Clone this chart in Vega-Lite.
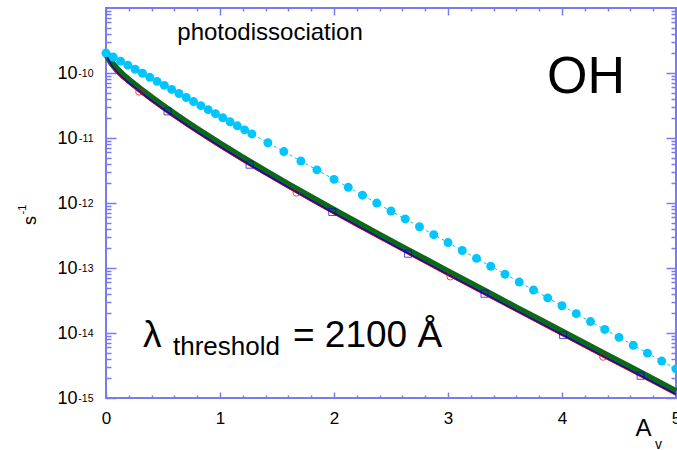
{
  "$schema": "https://vega.github.io/schema/vega-lite/v6.json",
  "width": 570,
  "height": 390,
  "autosize": {"type": "none"},
  "padding": {"left": 106, "top": 8, "right": 1, "bottom": 52},
  "config": {
    "view": {"stroke": "#7b7bf0", "strokeWidth": 2},
    "font": "Liberation Sans",
    "axis": {"domain": false, "grid": false, "tickColor": "#7b7bf0", "tickWidth": 1.5, "labelColor": "black", "titleColor": "black", "labelFont": "Liberation Sans", "titleFont": "Liberation Sans", "titleFontWeight": "normal", "labelOverlap": false, "labelBound": false, "labelFlush": false}
  },
  "datasets": {
    "green": [
      {"x": 0, "y": 2.0e-10}, {"x": 0.05, "y": 1.431e-10}, {"x": 0.1, "y": 1.119e-10}, {"x": 0.15, "y": 9.22e-11}, {"x": 0.2, "y": 7.76e-11}, {"x": 0.3, "y": 5.62e-11}, {"x": 0.4, "y": 4.14e-11}, {"x": 0.5, "y": 3.096e-11}, {"x": 0.6, "y": 2.332e-11}, {"x": 0.7, "y": 1.769e-11}, {"x": 0.8, "y": 1.355e-11}, {"x": 0.9, "y": 1.045e-11}, {"x": 1.0, "y": 8.09e-12}, {"x": 1.2, "y": 4.92e-12}, {"x": 1.4, "y": 3.05e-12}, {"x": 1.6, "y": 1.909e-12}, {"x": 1.8, "y": 1.208e-12}, {"x": 2.0, "y": 7.70e-13}, {"x": 2.2, "y": 4.95e-13}, {"x": 2.4, "y": 3.19e-13}, {"x": 2.6, "y": 2.065e-13}, {"x": 2.8, "y": 1.343e-13}, {"x": 3.0, "y": 8.72e-14}, {"x": 3.2, "y": 5.69e-14}, {"x": 3.4, "y": 3.72e-14}, {"x": 3.6, "y": 2.425e-14}, {"x": 3.8, "y": 1.588e-14}, {"x": 4.0, "y": 1.039e-14}, {"x": 4.2, "y": 6.81e-15}, {"x": 4.4, "y": 4.45e-15}, {"x": 4.6, "y": 2.923e-15}, {"x": 4.8, "y": 1.914e-15}, {"x": 5.0, "y": 1.256e-15}
    ],
    "blue": [
      {"x": 0, "y": 1.905e-10}, {"x": 0.05, "y": 1.306e-10}, {"x": 0.1, "y": 1.021e-10}, {"x": 0.15, "y": 8.41e-11}, {"x": 0.2, "y": 7.08e-11}, {"x": 0.3, "y": 5.13e-11}, {"x": 0.4, "y": 3.78e-11}, {"x": 0.5, "y": 2.825e-11}, {"x": 0.6, "y": 2.128e-11}, {"x": 0.7, "y": 1.614e-11}, {"x": 0.8, "y": 1.236e-11}, {"x": 0.9, "y": 9.53e-12}, {"x": 1.0, "y": 7.38e-12}, {"x": 1.2, "y": 4.49e-12}, {"x": 1.4, "y": 2.78e-12}, {"x": 1.6, "y": 1.742e-12}, {"x": 1.8, "y": 1.102e-12}, {"x": 2.0, "y": 7.03e-13}, {"x": 2.2, "y": 4.52e-13}, {"x": 2.4, "y": 2.91e-13}, {"x": 2.6, "y": 1.884e-13}, {"x": 2.8, "y": 1.225e-13}, {"x": 3.0, "y": 7.96e-14}, {"x": 3.2, "y": 5.19e-14}, {"x": 3.4, "y": 3.39e-14}, {"x": 3.6, "y": 2.213e-14}, {"x": 3.8, "y": 1.449e-14}, {"x": 4.0, "y": 9.48e-15}, {"x": 4.2, "y": 6.21e-15}, {"x": 4.4, "y": 4.06e-15}, {"x": 4.6, "y": 2.667e-15}, {"x": 4.8, "y": 1.746e-15}, {"x": 5.0, "y": 1.146e-15}
    ],
    "red": [
      {"x": 0, "y": 1.88e-10}, {"x": 0.05, "y": 1.262e-10}, {"x": 0.1, "y": 9.86e-11}, {"x": 0.15, "y": 8.12e-11}, {"x": 0.2, "y": 6.84e-11}, {"x": 0.3, "y": 4.96e-11}, {"x": 0.4, "y": 3.65e-11}, {"x": 0.5, "y": 2.729e-11}, {"x": 0.6, "y": 2.056e-11}, {"x": 0.7, "y": 1.559e-11}, {"x": 0.8, "y": 1.194e-11}, {"x": 0.9, "y": 9.21e-12}, {"x": 1.0, "y": 7.13e-12}, {"x": 1.2, "y": 4.34e-12}, {"x": 1.4, "y": 2.69e-12}, {"x": 1.6, "y": 1.683e-12}, {"x": 1.8, "y": 1.065e-12}, {"x": 2.0, "y": 6.79e-13}, {"x": 2.2, "y": 4.37e-13}, {"x": 2.4, "y": 2.81e-13}, {"x": 2.6, "y": 1.82e-13}, {"x": 2.8, "y": 1.183e-13}, {"x": 3.0, "y": 7.69e-14}, {"x": 3.2, "y": 5.01e-14}, {"x": 3.4, "y": 3.27e-14}, {"x": 3.6, "y": 2.138e-14}, {"x": 3.8, "y": 1.40e-14}, {"x": 4.0, "y": 9.16e-15}, {"x": 4.2, "y": 6.0e-15}, {"x": 4.4, "y": 3.92e-15}, {"x": 4.6, "y": 2.576e-15}, {"x": 4.8, "y": 1.687e-15}, {"x": 5.0, "y": 1.107e-15}
    ],
    "cyan": [
      {"x": 0, "y": 2.028e-10}, {"x": 0.064, "y": 1.757e-10}, {"x": 0.128, "y": 1.522e-10}, {"x": 0.192, "y": 1.319e-10}, {"x": 0.256, "y": 1.143e-10}, {"x": 0.32, "y": 9.91e-11}, {"x": 0.384, "y": 8.59e-11}, {"x": 0.448, "y": 7.44e-11}, {"x": 0.512, "y": 6.45e-11}, {"x": 0.576, "y": 5.59e-11}, {"x": 0.64, "y": 4.84e-11}, {"x": 0.704, "y": 4.195e-11}, {"x": 0.768, "y": 3.635e-11}, {"x": 0.832, "y": 3.15e-11}, {"x": 0.896, "y": 2.73e-11}, {"x": 0.96, "y": 2.365e-11}, {"x": 1.024, "y": 2.05e-11}, {"x": 1.088, "y": 1.776e-11}, {"x": 1.152, "y": 1.539e-11}, {"x": 1.216, "y": 1.334e-11}, {"x": 1.28, "y": 1.156e-11}, {"x": 1.42, "y": 8.45e-12}, {"x": 1.56, "y": 6.18e-12}, {"x": 1.71, "y": 4.42e-12}, {"x": 1.85, "y": 3.23e-12}, {"x": 2.0, "y": 2.307e-12}, {"x": 2.125, "y": 1.744e-12}, {"x": 2.25, "y": 1.318e-12}, {"x": 2.375, "y": 9.97e-13}, {"x": 2.5, "y": 7.53e-13}, {"x": 2.625, "y": 5.69e-13}, {"x": 2.75, "y": 4.31e-13}, {"x": 2.875, "y": 3.255e-13}, {"x": 3.0, "y": 2.46e-13}, {"x": 3.125, "y": 1.86e-13}, {"x": 3.25, "y": 1.406e-13}, {"x": 3.375, "y": 1.063e-13}, {"x": 3.5, "y": 8.04e-14}, {"x": 3.625, "y": 6.07e-14}, {"x": 3.75, "y": 4.59e-14}, {"x": 3.875, "y": 3.47e-14}, {"x": 4.0, "y": 2.624e-14}, {"x": 4.125, "y": 1.984e-14}, {"x": 4.25, "y": 1.5e-14}, {"x": 4.375, "y": 1.134e-14}, {"x": 4.5, "y": 8.57e-15}, {"x": 4.625, "y": 6.48e-15}, {"x": 4.75, "y": 4.9e-15}, {"x": 4.875, "y": 3.70e-15}, {"x": 5.0, "y": 2.80e-15}
    ],
    "circles": [
      {"x": 0.29, "y": 5.13e-11}, {"x": 1.67, "y": 1.432e-12}, {"x": 3.02, "y": 7.36e-14}, {"x": 4.36, "y": 4.28e-15}
    ],
    "squares": [
      {"x": 0.54, "y": 2.57e-11}, {"x": 1.26, "y": 3.89e-12}, {"x": 1.985, "y": 7.28e-13}, {"x": 2.65, "y": 1.66e-13}, {"x": 3.32, "y": 4.02e-14}, {"x": 4.01, "y": 9.29e-15}, {"x": 4.69, "y": 2.20e-15}
    ],
    "one": [{}]
  },
  "resolve": {"axis": {"x": "independent", "y": "independent"}},
  "layer": [
    {
      "data": {"name": "green"},
      "mark": {"type": "line", "color": "#0e681a", "strokeWidth": 7},
      "encoding": {
        "x": {"field": "x", "type": "quantitative", "scale": {"domain": [0, 5], "nice": false},
          "axis": {"orient": "bottom", "values": [0, 1, 2, 3, 4, 5], "ticks": false, "labelFontSize": 17, "labelPadding": 12, "title": "A", "titleFontSize": 24, "titleX": 537, "titleY": 37, "titleAlign": "center", "titleBaseline": "alphabetic"}},
        "y": {"field": "y", "type": "quantitative", "scale": {"type": "log", "domain": [1e-15, 1e-9], "nice": false},
          "axis": {"orient": "left", "values": [1e-15, 1e-14, 1e-13, 1e-12, 1e-11, 1e-10], "labelExpr": "'10'", "ticks": false, "labelFontSize": 18, "labelPadding": 29, "title": "s", "titleFontSize": 18, "titleAngle": -90, "titleX": -76, "titleY": 212, "titleAlign": "center", "titleBaseline": "middle"}}
      }
    },
    {
      "data": {"name": "red"},
      "mark": {"type": "line", "color": "#e00000", "strokeWidth": 1.2},
      "encoding": {
        "x": {"field": "x", "type": "quantitative", "scale": {"domain": [0, 5], "nice": false},
          "axis": {"orient": "bottom", "values": [0, 1, 2, 3, 4, 5], "labels": false, "tickSize": -6, "title": "v", "titleFontSize": 14, "titleX": 552, "titleY": 50, "titleAlign": "center", "titleBaseline": "alphabetic"}},
        "y": {"field": "y", "type": "quantitative", "scale": {"type": "log", "domain": [1e-15, 1e-9], "nice": false},
          "axis": {"orient": "left", "values": [1e-15, 1e-14, 1e-13, 1e-12, 1e-11, 1e-10], "labelExpr": "'-' + round(-log(datum.value)/LN10)", "ticks": false, "labelFontSize": 10.5, "labelPadding": 13, "labelDy": -7, "title": "-1", "titleFontSize": 11, "titleAngle": -90, "titleX": -84, "titleY": 201, "titleAlign": "center", "titleBaseline": "middle"}}
      }
    },
    {
      "data": {"name": "blue"},
      "mark": {"type": "line", "color": "#0000dd", "strokeWidth": 1.2},
      "encoding": {
        "x": {"field": "x", "type": "quantitative", "scale": {"domain": [0, 5], "nice": false},
          "axis": {"orient": "bottom", "values": [0.2, 0.4, 0.6, 0.8, 1.2, 1.4, 1.6, 1.8, 2.2, 2.4, 2.6, 2.8, 3.2, 3.4, 3.6, 3.8, 4.2, 4.4, 4.6, 4.8], "labels": false, "tickSize": -3, "title": null}},
        "y": {"field": "y", "type": "quantitative", "scale": {"type": "log", "domain": [1e-15, 1e-9], "nice": false},
          "axis": {"orient": "left", "values": [1e-15, 1e-14, 1e-13, 1e-12, 1e-11, 1e-10], "labels": false, "tickSize": -10, "title": null}}
      }
    },
    {
      "data": {"name": "cyan"},
      "mark": {"type": "line", "color": "#00c5ff", "strokeWidth": 1, "strokeDash": [3, 3]},
      "encoding": {
        "x": {"field": "x", "type": "quantitative", "scale": {"domain": [0, 5], "nice": false},
          "axis": {"orient": "top", "values": [0, 1, 2, 3, 4, 5], "labels": false, "tickSize": -7, "title": null}},
        "y": {"field": "y", "type": "quantitative", "scale": {"type": "log", "domain": [1e-15, 1e-9], "nice": false},
          "axis": {"orient": "left", "values": [2e-15, 3e-15, 4e-15, 5e-15, 6e-15, 7e-15, 8e-15, 9e-15, 2e-14, 3e-14, 4e-14, 5e-14, 6e-14, 7e-14, 8e-14, 9e-14, 2e-13, 3e-13, 4e-13, 5e-13, 6e-13, 7e-13, 8e-13, 9e-13, 2e-12, 3e-12, 4e-12, 5e-12, 6e-12, 7e-12, 8e-12, 9e-12, 2e-11, 3e-11, 4e-11, 5e-11, 6e-11, 7e-11, 8e-11, 9e-11, 2e-10, 3e-10, 4e-10, 5e-10, 6e-10, 7e-10, 8e-10, 9e-10], "labels": false, "tickSize": -5, "title": null}}
      }
    },
    {
      "data": {"name": "cyan"},
      "mark": {"type": "circle", "color": "#00c5ff", "size": 80, "opacity": 1},
      "encoding": {
        "x": {"field": "x", "type": "quantitative", "scale": {"domain": [0, 5], "nice": false},
          "axis": {"orient": "top", "values": [0.2, 0.4, 0.6, 0.8, 1.2, 1.4, 1.6, 1.8, 2.2, 2.4, 2.6, 2.8, 3.2, 3.4, 3.6, 3.8, 4.2, 4.4, 4.6, 4.8], "labels": false, "tickSize": -3, "title": null}},
        "y": {"field": "y", "type": "quantitative", "scale": {"type": "log", "domain": [1e-15, 1e-9], "nice": false},
          "axis": {"orient": "right", "values": [1e-15, 1e-14, 1e-13, 1e-12, 1e-11, 1e-10], "labels": false, "tickSize": -10, "title": null}}
      }
    },
    {
      "data": {"name": "circles"},
      "mark": {"type": "point", "shape": "circle", "color": "#dd0000", "filled": false, "size": 45, "strokeWidth": 1},
      "encoding": {
        "x": {"field": "x", "type": "quantitative", "scale": {"domain": [0, 5], "nice": false}, "axis": null},
        "y": {"field": "y", "type": "quantitative", "scale": {"type": "log", "domain": [1e-15, 1e-9], "nice": false},
          "axis": {"orient": "right", "values": [2e-15, 3e-15, 4e-15, 5e-15, 6e-15, 7e-15, 8e-15, 9e-15, 2e-14, 3e-14, 4e-14, 5e-14, 6e-14, 7e-14, 8e-14, 9e-14, 2e-13, 3e-13, 4e-13, 5e-13, 6e-13, 7e-13, 8e-13, 9e-13, 2e-12, 3e-12, 4e-12, 5e-12, 6e-12, 7e-12, 8e-12, 9e-12, 2e-11, 3e-11, 4e-11, 5e-11, 6e-11, 7e-11, 8e-11, 9e-11, 2e-10, 3e-10, 4e-10, 5e-10, 6e-10, 7e-10, 8e-10, 9e-10], "labels": false, "tickSize": -5, "title": null}}
      }
    },
    {
      "data": {"name": "squares"},
      "mark": {"type": "point", "shape": "square", "color": "#0000dd", "filled": false, "size": 50, "strokeWidth": 1},
      "encoding": {
        "x": {"field": "x", "type": "quantitative", "scale": {"domain": [0, 5], "nice": false}, "axis": null},
        "y": {"field": "y", "type": "quantitative", "scale": {"type": "log", "domain": [1e-15, 1e-9], "nice": false}, "axis": null}
      }
    },
    {
      "data": {"name": "one"},
      "mark": {"type": "text", "text": "photodissociation", "fontSize": 24, "align": "center", "baseline": "alphabetic", "color": "black", "font": "Liberation Sans"},
      "encoding": {
        "x": {"datum": 1.439, "type": "quantitative", "scale": {"domain": [0, 5], "nice": false}, "axis": null},
        "y": {"datum": 3.22e-10, "type": "quantitative", "scale": {"type": "log", "domain": [1e-15, 1e-9], "nice": false}, "axis": null}
      }
    },
    {
      "data": {"name": "one"},
      "mark": {"type": "text", "text": "OH", "fontSize": 52, "align": "center", "baseline": "alphabetic", "color": "black", "font": "Liberation Sans"},
      "encoding": {
        "x": {"datum": 4.211, "type": "quantitative", "scale": {"domain": [0, 5], "nice": false}, "axis": null},
        "y": {"datum": 4.92e-11, "type": "quantitative", "scale": {"type": "log", "domain": [1e-15, 1e-9], "nice": false}, "axis": null}
      }
    },
    {
      "data": {"name": "one"},
      "mark": {"type": "text", "text": "λ", "fontSize": 37, "align": "left", "baseline": "alphabetic", "color": "black", "font": "Liberation Sans"},
      "encoding": {
        "x": {"datum": 0.3246, "type": "quantitative", "scale": {"domain": [0, 5], "nice": false}, "axis": null},
        "y": {"datum": 6.1e-15, "type": "quantitative", "scale": {"type": "log", "domain": [1e-15, 1e-9], "nice": false}, "axis": null}
      }
    },
    {
      "data": {"name": "one"},
      "mark": {"type": "text", "text": "threshold", "fontSize": 26, "align": "left", "baseline": "alphabetic", "color": "black", "font": "Liberation Sans"},
      "encoding": {
        "x": {"datum": 0.588, "type": "quantitative", "scale": {"domain": [0, 5], "nice": false}, "axis": null},
        "y": {"datum": 4.59e-15, "type": "quantitative", "scale": {"type": "log", "domain": [1e-15, 1e-9], "nice": false}, "axis": null}
      }
    },
    {
      "data": {"name": "one"},
      "mark": {"type": "text", "text": "= 2100 Å", "fontSize": 37, "align": "left", "baseline": "alphabetic", "color": "black", "font": "Liberation Sans"},
      "encoding": {
        "x": {"datum": 1.64, "type": "quantitative", "scale": {"domain": [0, 5], "nice": false}, "axis": null},
        "y": {"datum": 6.1e-15, "type": "quantitative", "scale": {"type": "log", "domain": [1e-15, 1e-9], "nice": false}, "axis": null}
      }
    }
  ]
}
